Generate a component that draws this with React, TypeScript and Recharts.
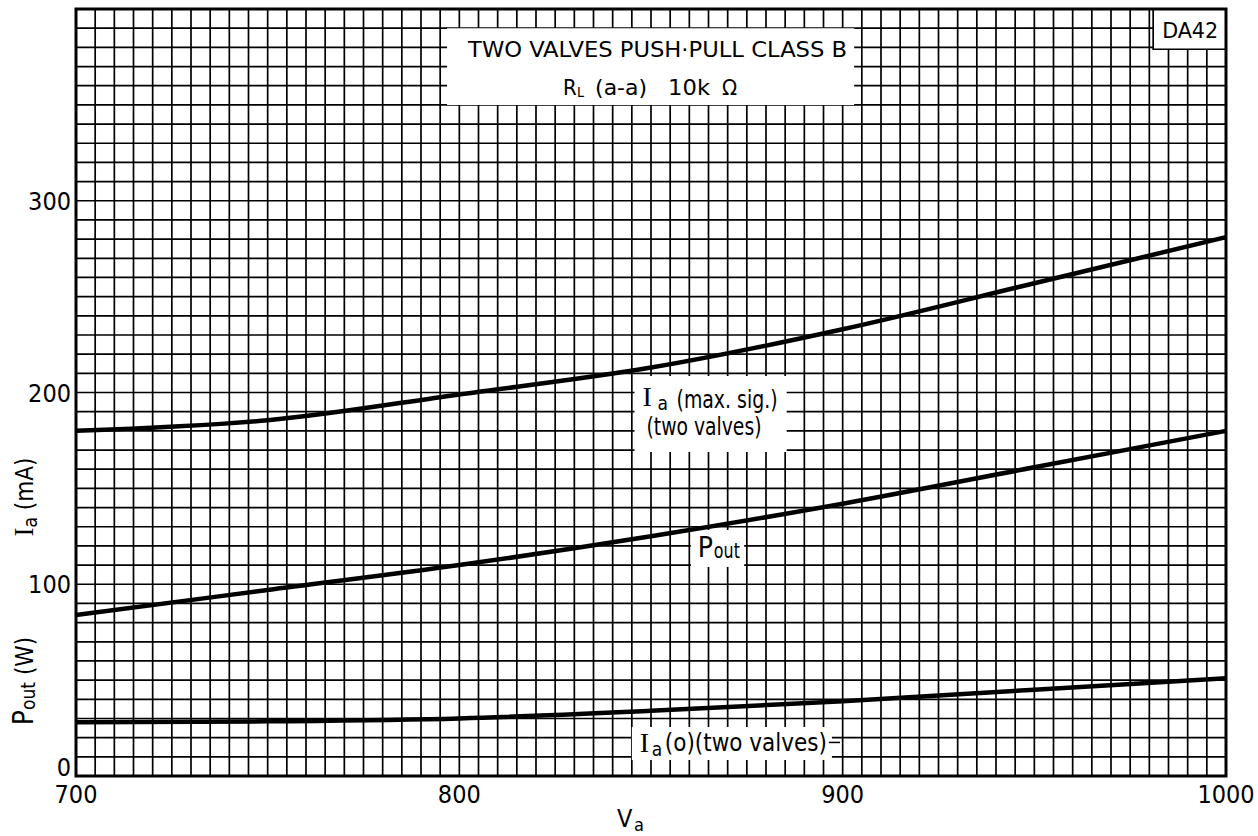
import React from 'react';
import { LineChart, Line, XAxis, YAxis, CartesianGrid, ReferenceArea, ReferenceLine } from 'recharts';

// anode voltage Va (V)
const vaPoints = [700, 750, 800, 850, 900, 950, 1000];
// anode current at max signal, two valves (mA)
const iaMaxSig = [180, 185.5, 199, 213, 233, 257, 281];
// output power (W)
const pOut = [84, 97, 110, 125, 142, 161, 180];
// anode current at zero signal, two valves (mA)
const iaZero = [28, 28.5, 30, 34, 39, 45, 51];

const xTickLabels = [700, 800, 900, 1000];
const yTickLabels = [0, 100, 200, 300];

// graph paper: every 5 V and every 10 units
const xGrid = Array.from({ length: 61 }, (_, i) => 700 + i * 5);
const yGrid = Array.from({ length: 41 }, (_, i) => i * 10);

const rows = vaPoints.map((va, i) => ({ va, iaMax: iaMaxSig[i], pOut: pOut[i], ia0: iaZero[i] }));

const FONT = "'Liberation Sans Narrow', 'DejaVu Sans Condensed', 'Liberation Sans', sans-serif";
const SERIF = "'Liberation Serif', 'DejaVu Serif', serif";

const XTick = (props: any) => {
  const { x, y, payload } = props;
  if (!xTickLabels.includes(payload.value)) return <g />;
  return (
    <text x={x} y={y + 27} textAnchor="middle" fontFamily={FONT} fontSize={25} fill="#000">
      {payload.value}
    </text>
  );
};

const YTick = (props: any) => {
  const { x, y, payload } = props;
  if (!yTickLabels.includes(payload.value)) return <g />;
  const shift = payload.value === 0 ? 0 : 9;
  return (
    <text x={x - 5} y={y + shift} textAnchor="end" fontFamily={FONT} fontSize={25} fill="#000">
      {payload.value}
    </text>
  );
};

const titleText = ({ viewBox }: any) => {
  const { x, y } = viewBox;
  return (
    <g fontFamily={FONT} fill="#000">
      <text x={x + 21} y={y + 29} fontSize={21} textLength={379} lengthAdjust="spacingAndGlyphs">
        TWO VALVES PUSH·PULL CLASS B
      </text>
      <text x={x + 116} y={y + 67} fontSize={22}>R</text>
      <text x={x + 130} y={y + 69} fontSize={14}>L</text>
      <text x={x + 148} y={y + 67} fontSize={22} textLength={52} lengthAdjust="spacingAndGlyphs">(a-a)</text>
      <text x={x + 221} y={y + 67} fontSize={22} textLength={42} lengthAdjust="spacingAndGlyphs">10k</text>
      <text x={x + 275} y={y + 67} fontSize={22}>Ω</text>
    </g>
  );
};

const typeText = ({ viewBox }: any) => {
  const { x, y } = viewBox;
  return (
    <text x={x + 9} y={y + 29} fontFamily={FONT} fontSize={21} textLength={56} lengthAdjust="spacingAndGlyphs" fill="#000">
      DA42
    </text>
  );
};

const iaMaxText = ({ viewBox }: any) => {
  const { x, y } = viewBox;
  return (
    <g fontFamily={FONT} fill="#000">
      <text x={x + 8} y={y + 30} fontFamily={SERIF} fontSize={28}>I</text>
      <text x={x + 23} y={y + 34} fontSize={19}>a</text>
      <text x={x + 42} y={y + 32} fontSize={24} textLength={101} lengthAdjust="spacingAndGlyphs">(max. sig.)</text>
      <text x={x + 12} y={y + 59} fontSize={24} textLength={115} lengthAdjust="spacingAndGlyphs">(two valves)</text>
    </g>
  );
};

const pOutText = ({ viewBox }: any) => {
  const { x, y } = viewBox;
  return (
    <g fontFamily={FONT} fill="#000">
      <text x={x + 7} y={y + 27} fontSize={28}>P</text>
      <text x={x + 23} y={y + 28} fontSize={21} textLength={26} lengthAdjust="spacingAndGlyphs">out</text>
    </g>
  );
};

const ia0Text = ({ viewBox }: any) => {
  const { x, y } = viewBox;
  return (
    <g fontFamily={FONT} fill="#000">
      <text x={x + 8} y={y + 25} fontFamily={SERIF} fontSize={28}>I</text>
      <text x={x + 20} y={y + 29} fontSize={19}>a</text>
      <text x={x + 33} y={y + 24} fontSize={24} textLength={162} lengthAdjust="spacingAndGlyphs">(o)(two valves)</text>
    </g>
  );
};

const yAxisTitle = () => (
  <g fontFamily={FONT} fill="#000">
    <text x={33} y={497} transform="rotate(-90, 33, 497)" textAnchor="middle" fontSize={24}>
      <tspan fontFamily={SERIF} fontSize={27}>I</tspan>
      <tspan fontSize={19} dy={4}>a</tspan>
      <tspan dy={-4}> (mA)</tspan>
    </text>
    <text x={33} y={681} transform="rotate(-90, 33, 681)" textAnchor="middle" fontSize={24}>
      <tspan fontSize={28}>P</tspan>
      <tspan fontSize={19} dy={2}>out</tspan>
      <tspan dy={-2}>  (W)</tspan>
    </text>
  </g>
);

const xAxisTitle = () => (
  <g fontFamily={FONT} fill="#000">
    <text x={617} y={827} fontSize={25}>V</text>
    <text x={634} y={831} fontSize={18}>a</text>
  </g>
);

export default function App() {
  return (
    <div style={{ position: 'absolute', left: 0, top: 0, width: 1258, height: 836, background: '#fff' }}>
      <LineChart width={1258} height={836} data={rows} margin={{ top: 9, right: 32, bottom: 0, left: 0 }}>
        <CartesianGrid stroke="#000" strokeWidth={1.7} />
        <XAxis
          type="number"
          dataKey="va"
          domain={[700, 1000]}
          ticks={xGrid}
          interval={0}
          tickLine={false}
          axisLine={false}
          tickSize={0}
          tickMargin={0}
          height={60}
          tick={<XTick />}
          label={xAxisTitle}
        />
        <YAxis
          type="number"
          domain={[0, 400]}
          ticks={yGrid}
          interval={0}
          tickLine={false}
          axisLine={false}
          tickSize={0}
          tickMargin={0}
          width={76}
          tick={<YTick />}
          label={yAxisTitle}
        />
        <ReferenceArea x1={796.8} x2={903} y1={350} y2={390} fill="#fff" fillOpacity={1} stroke="none" label={titleText} />
        <ReferenceArea x1={981} x2={1000} y1={379} y2={400} fill="#fff" fillOpacity={1} stroke="#000" strokeWidth={1.7} label={typeText} />
        <ReferenceArea x1={845.7} x2={885.4} y1={169} y2={208.6} fill="#fff" fillOpacity={1} stroke="none" label={iaMaxText} />
        <ReferenceArea x1={860.4} x2={874.3} y1={109} y2={128.3} fill="#fff" fillOpacity={1} stroke="none" label={pOutText} />
        <ReferenceArea x1={845} x2={897.2} y1={8.3} y2={25.5} fill="#fff" fillOpacity={1} stroke="none" label={ia0Text} />
        <ReferenceLine segment={[{ x: 896.4, y: 17.5 }, { x: 899.3, y: 17.5 }]} stroke="#000" strokeWidth={1.5} />
        <Line type="monotone" dataKey="iaMax" stroke="#000" strokeWidth={4.5} dot={false} isAnimationActive={false} />
        <Line type="monotone" dataKey="pOut" stroke="#000" strokeWidth={4.5} dot={false} isAnimationActive={false} />
        <Line type="monotone" dataKey="ia0" stroke="#000" strokeWidth={4.5} dot={false} isAnimationActive={false} />
        <ReferenceArea x1={700} x2={1000} y1={0} y2={400} fill="none" stroke="#000" strokeWidth={3} />
      </LineChart>
    </div>
  );
}
